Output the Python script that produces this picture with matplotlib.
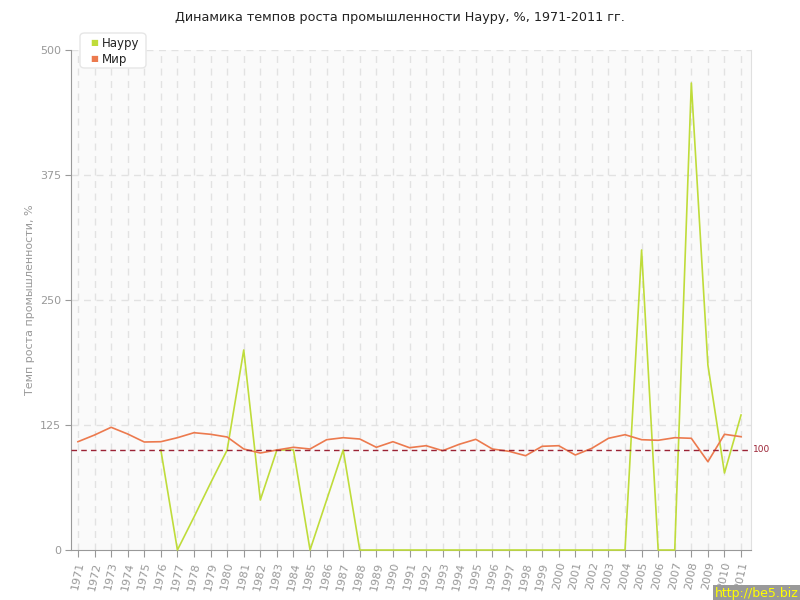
import matplotlib
matplotlib.use("Agg")
import matplotlib.pyplot as plt
from matplotlib.patches import FancyBboxPatch

years = list(range(1971, 2012))
nauru_years = list(range(1976, 2012))
nauru = [100, 0, 33, 67, 100, 200, 50, 100, 100, 0, 50, 100, 0,
         0, 0, 0, 0, 0, 0, 0, 0, 0, 0, 0, 0, 0, 0, 0,
         0, 300, 0, 0, 467, 185, 77, 135]
world = [108.3, 115, 122.7, 116, 108, 108.3, 112.3, 117.3, 115.7, 113,
         101, 97, 100, 102.7, 101, 110.3, 112.3, 111, 102.7, 108.3,
         102.3, 104.3, 99.3, 105.7, 110.7, 101, 98.7, 94.3, 103.7, 104.3,
         95, 101.7, 111.7, 115.3, 110.3, 109.7, 112.3, 111.7, 88.3, 115.7, 113.3]
yticks = [0, 125, 250, 375, 500]
ref_value = 100

green = "#bfdc3a"
orange = "#ec7a4e"
grey = "#999999"

fig = plt.figure(figsize=(8, 6), dpi=100)
ax = fig.add_axes([71/800, 50/600, 680/800, 500/600])
ax.set_facecolor("#fafafa")

ax.plot(nauru_years, nauru, color=green, lw=1.2, zorder=3, clip_on=False)
ax.plot(years, world, color=orange, lw=1.2, zorder=4)
ax.axhline(ref_value, color="#9b2335", lw=1.0, ls=(0, (4, 3)), zorder=5)
ax.text(2011.6 + 0.1, ref_value, "100", color="#9b2335", fontsize=6.5,
        va="center", ha="left", transform=ax.transData, clip_on=False)

ax.set_xlim(1970.58, 2011.6)
ax.set_ylim(0, 500)
ax.set_xticks(years)
ax.set_xticklabels([str(y) for y in years], rotation=78, fontsize=8,
                   color=grey, ha="center", va="top")
ax.set_yticks(yticks)
ax.set_yticklabels([str(v) for v in yticks], fontsize=8, color=grey)
ax.tick_params(axis="x", length=5, color=grey, pad=3)
ax.tick_params(axis="y", length=4, color=grey, pad=3)

for x in years:
    ax.axvline(x, color="#e2e2e2", lw=1, ls=(0, (5, 4)), zorder=1)
for v in yticks[1:]:
    ax.axhline(v, color="#e2e2e2", lw=1, ls=(0, (5, 4)), zorder=1)

ax.spines["top"].set_visible(False)
ax.spines["right"].set_color("#e0e0e0")
ax.spines["left"].set_color(grey)
ax.spines["bottom"].set_color(grey)

ax.set_ylabel("Темп роста промышленности, %", fontsize=8, color=grey, labelpad=4)
fig.text(0.5, 1 - 18/600, "Динамика темпов роста промышленности Науру, %, 1971-2011 гг.",
         ha="center", va="center", fontsize=9.2, color="#222222")

# legend box
box = FancyBboxPatch((80/800, 532/600), 66/800, 35/600,
                     boxstyle="round,pad=0,rounding_size=0.006",
                     transform=fig.transFigure, facecolor="white",
                     edgecolor="#e6e6e6", lw=1, zorder=10)
fig.patches.append(box)
fig.text(90/800, 1 - 43/600, "■", color=green, fontsize=6, va="center", zorder=11)
fig.text(90/800, 1 - 59/600, "■", color=orange, fontsize=6, va="center", zorder=11)
fig.text(102/800, 1 - 43/600, "Науру", color="#222222", fontsize=8.5, va="center", zorder=11)
fig.text(102/800, 1 - 59/600, "Мир", color="#222222", fontsize=8.5, va="center", zorder=11)

fig.text(1 - 1/800, 6/600, "http://be5.biz", color="#ffff00", fontsize=9,
         ha="right", va="center",
         bbox=dict(facecolor="#999999", edgecolor="none", pad=2))

fig.savefig("out.png", dpi=100)
